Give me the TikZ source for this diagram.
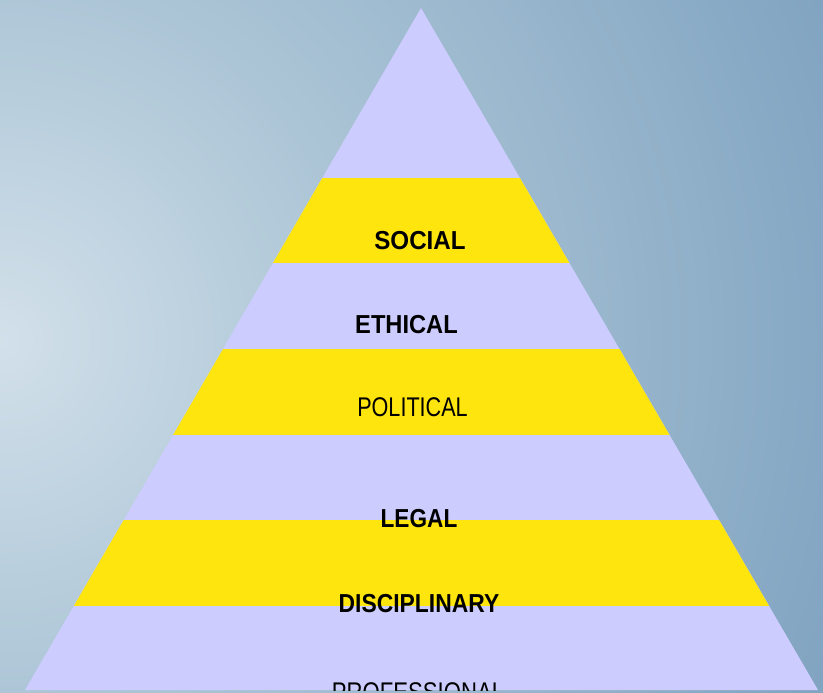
\documentclass[tikz,border=0pt]{standalone}
\usepackage{fontspec}
\setmainfont{Liberation Sans}
\usepackage{graphicx}
\definecolor{bgin}{RGB}{210,224,234}
\definecolor{bgmid}{RGB}{172,197,214}
\definecolor{bgout}{RGB}{120,157,189}
\definecolor{lav}{RGB}{204,204,255}
\definecolor{band}{RGB}{255,229,14}
% glow stops: shading square of half-size 1000 puts 50bp at 1414
\pgfdeclareradialshading{bgglow}{\pgfpoint{0bp}{0bp}}{color(0bp)=(bgin); color(9bp)=(bgmid); color(25bp)=(bgout); color(50bp)=(bgout)}
\tikzset{
  boldlbl/.style={anchor=base, inner sep=0pt, text=black,
    font=\fontsize{26}{26}\selectfont\bfseries},
  plainlbl/.style={anchor=base, inner sep=0pt, text=black,
    font=\fontsize{27}{27}\selectfont},
}
\newcommand{\narrowtext}[2]{\scalebox{#1}[1]{#2}}
\begin{document}
\begin{tikzpicture}[x=1pt,y=-1pt]
  \useasboundingbox (0,0) rectangle (823,693);
  % background glow from the left edge
  \begin{scope}
    \clip (0,0) rectangle (823,693);
    \shade[shading=bgglow] (-1000,-660) rectangle (1000,1340);
  \end{scope}
  % pyramid body with alternating bands
  \coordinate (apex) at (421,8);
  \coordinate (bl) at (25,690);
  \coordinate (br) at (818,690);
  \fill[lav] (apex) -- (bl) -- (br) -- cycle;
  \begin{scope}
    \clip (apex) -- (bl) -- (br) -- cycle;
    \fill[band] (0,178) rectangle (823,263);
    \fill[band] (0,349) rectangle (823,435);
    \fill[band] (0,520) rectangle (823,606);
  \end{scope}
  % labels
  \node[boldlbl] (social) at (420,249) {\narrowtext{0.93}{SOCIAL}};
  \node[boldlbl] (ethical) at (406.5,333) {\narrowtext{0.91}{ETHICAL}};
  \node[plainlbl] (political) at (412.5,416) {\narrowtext{0.8}{POLITICAL}};
  \node[boldlbl] (legal) at (419,527) {\narrowtext{0.87}{LEGAL}};
  \node[boldlbl] (disc) at (419,612) {\narrowtext{0.88}{DISCIPLINARY}};
  \begin{scope}
    \clip (0,0) rectangle (823,690);
    \node[plainlbl] (prof) at (418,701) {\narrowtext{0.82}{PROFESSIONAL}};
  \end{scope}
\end{tikzpicture}
\end{document}
